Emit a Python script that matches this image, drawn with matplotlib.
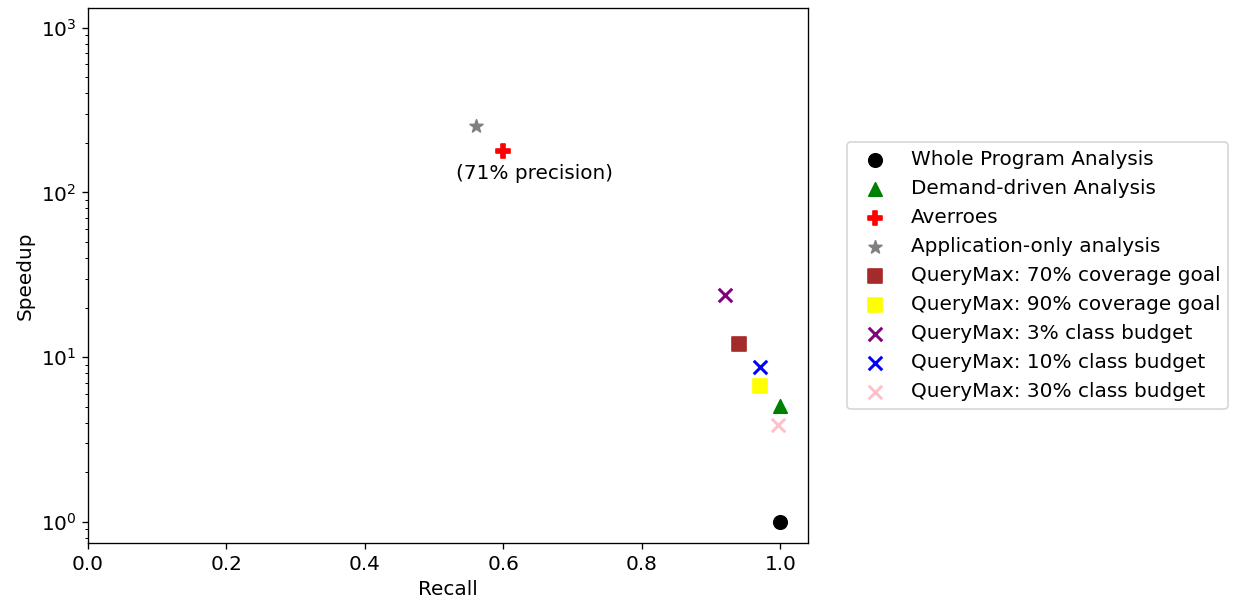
import matplotlib
matplotlib.use('Agg')
import matplotlib.pyplot as plt

plt.rcParams['font.size'] = 12

# data
labels = ['Whole Program Analysis', 'Demand-driven Analysis', 'Averroes',
          'Application-only analysis', 'QueryMax: 70% coverage goal',
          'QueryMax: 90% coverage goal', 'QueryMax: 3% class budget',
          'QueryMax: 10% class budget', 'QueryMax: 30% class budget']
recall = [1.0, 1.0, 0.6, 0.56, 0.94, 0.97, 0.92, 0.97, 0.996]
speedup = [1.0, 5.05, 178, 252, 12.0, 6.7, 24.0, 8.7, 3.9]
markers = ['o', '^', 'P', '*', 's', 's', 'x', 'x', 'x']
colors = ['black', 'green', 'red', 'grey', 'brown', 'yellow', 'purple', 'blue', 'pink']

fig = plt.figure(figsize=(1233 / 120, 608 / 120), dpi=120)
ax = fig.add_axes([0.0714, 0.107, 0.5839, 0.88])

for i in range(len(labels)):
    ax.scatter(recall[i], speedup[i], marker=markers[i], c=colors[i], s=65,
               linewidths=1.8 if markers[i] == 'x' else 1, label=labels[i])

ax.text(0.645, 131, '(71% precision)', ha='center', va='center')

ax.set_yscale('log')
ax.set_xlim(0, 1.04)
ax.set_ylim(0.745, 1320)
ax.set_xlabel('Recall')
ax.set_ylabel('Speedup')
ax.legend(loc='center left', bbox_to_anchor=(1.04, 0.5))

fig.savefig('out.png', dpi=120)
